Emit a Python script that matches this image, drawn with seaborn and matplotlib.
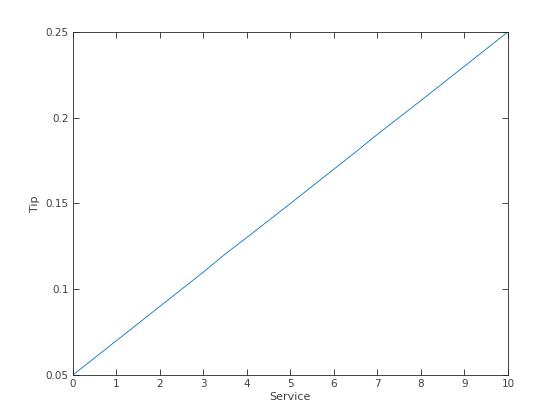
import numpy as np
import pandas as pd
import matplotlib
matplotlib.use("Agg")
import matplotlib.pyplot as plt
import seaborn as sns

# values
service = [0, 1, 2, 3, 3.5, 4, 5, 6, 6.5, 7, 8, 9, 10]
tip = [0.05, 0.07, 0.09, 0.11, 0.1205, 0.1302, 0.15, 0.17, 0.18, 0.1903, 0.21, 0.23, 0.25]

x_ticks = [0, 1, 2, 3, 4, 5, 6, 7, 8, 9, 10]
y_ticks = [0.05, 0.1, 0.15, 0.2, 0.25]
y_labels = ["0.05", "0.1", "0.15", "0.2", "0.25"]

sns.set_theme(style="white")
plt.rcParams["font.family"] = ["DejaVu Sans"]

df = pd.DataFrame({"Service": service, "Tip": tip})

fig = plt.figure(figsize=(5.6, 4.2), dpi=100)
ax = fig.add_axes([0.130, 0.107, 0.777, 0.817])

sns.lineplot(data=df, x="Service", y="Tip", ax=ax, color="#0072BD", linewidth=0.6)

ax.set_xlim(0, 10)
ax.set_ylim(0.05, 0.25)
ax.set_xticks(x_ticks)
ax.set_yticks(y_ticks)
ax.set_yticklabels(y_labels)

text_col = "#404040"
ax.tick_params(direction="in", length=4, width=0.6, colors="#262626",
               labelcolor=text_col, labelsize=7.5, top=True, right=True,
               bottom=True, left=True, pad=3)
for s in ax.spines.values():
    s.set_color("#262626")
    s.set_linewidth(0.6)
    s.set_visible(True)

ax.set_xlabel("Service", fontsize=8, color=text_col, labelpad=2)
ax.set_ylabel("Tip", fontsize=8, color=text_col, labelpad=4)

fig.savefig("out.png", dpi=100, facecolor="white")
